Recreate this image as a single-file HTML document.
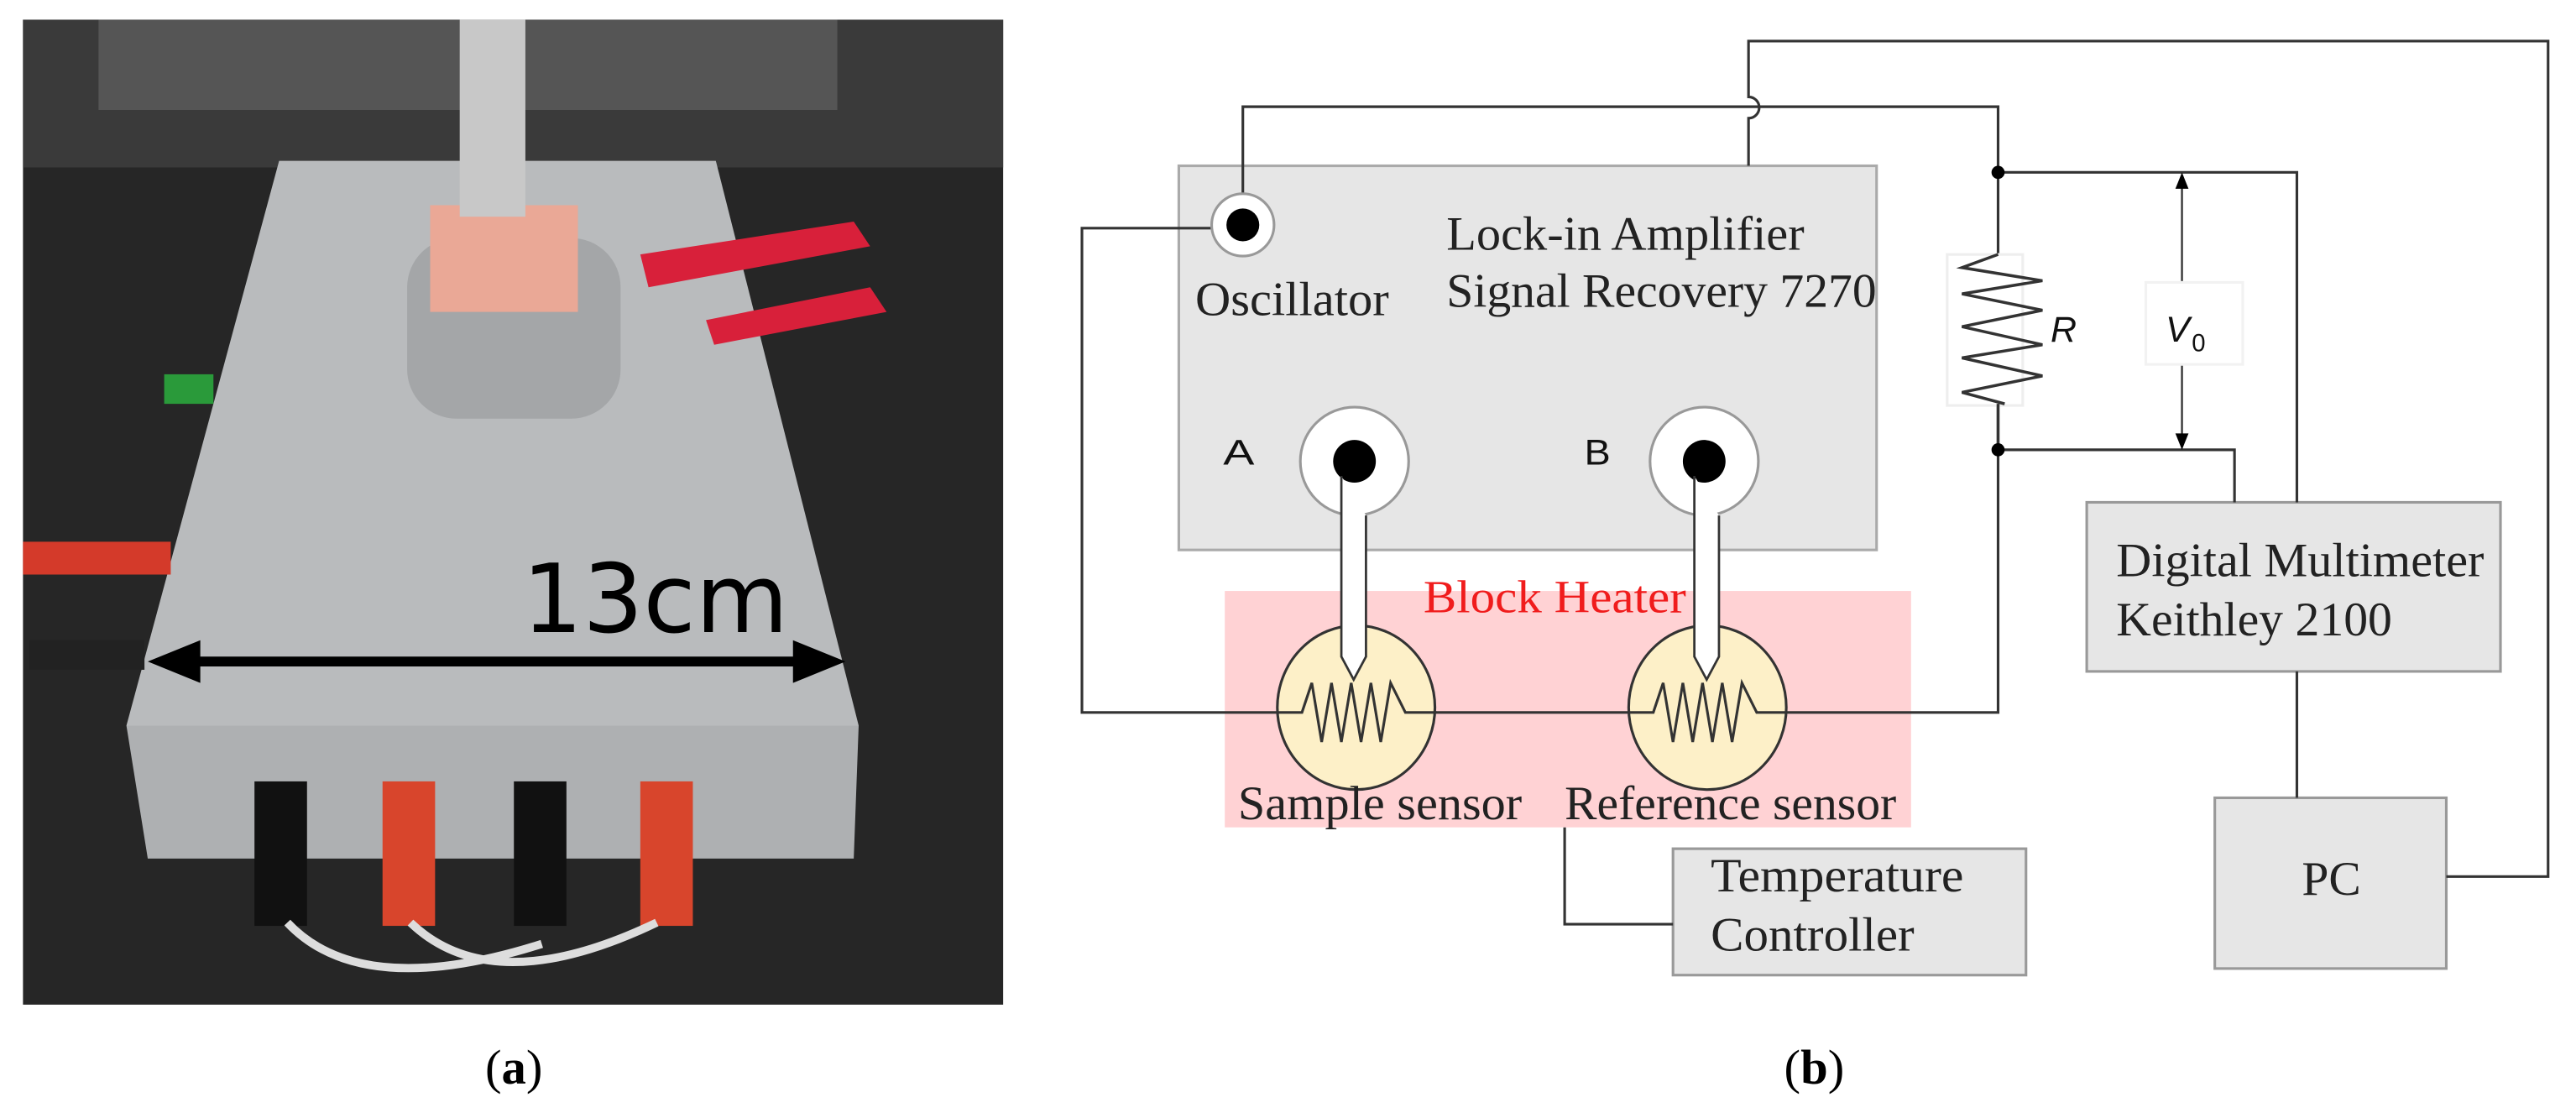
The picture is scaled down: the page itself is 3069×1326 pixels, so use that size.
<!DOCTYPE html>
<html><head><meta charset="utf-8"><style>
html,body{margin:0;padding:0;background:#fff;}
svg{display:block;}
</style></head><body>
<svg width="3069" height="1326" viewBox="0 0 1569 678" preserveAspectRatio="none" xmlns="http://www.w3.org/2000/svg">
<g>
<rect x="14" y="12" width="597" height="600" fill="#262626"/>
<rect x="14" y="12" width="597" height="90" fill="#3a3a3a"/>
<rect x="60" y="12" width="450" height="55" fill="#555"/>
<path d="M170 98 L436 98 L523 442 L77 442 Z" fill="#b9bbbd"/>
<path d="M77 442 L523 442 L520 523 L90 523Z" fill="#aeb0b2"/>
<rect x="248" y="145" width="130" height="110" rx="30" fill="#a4a6a8"/>
<rect x="262" y="125" width="90" height="65" fill="#eaa896"/>
<rect x="280" y="12" width="40" height="120" fill="#c8c8c8"/>
<path d="M390 155 L520 135 L530 150 L395 175Z M430 195 L530 175 L540 190 L435 210Z" fill="#d8203a"/>
<rect x="14" y="330" width="90" height="20" fill="#d43a2a"/>
<rect x="18" y="390" width="70" height="18" fill="#222"/>
<rect x="100" y="228" width="30" height="18" fill="#2a9a3a"/>
<rect x="155" y="476" width="32" height="88" fill="#111"/>
<rect x="233" y="476" width="32" height="88" fill="#d8452c"/>
<rect x="313" y="476" width="32" height="88" fill="#111"/>
<rect x="390" y="476" width="32" height="88" fill="#d8452c"/>
<path d="M175 562 Q220 610 330 575 M250 562 Q300 610 400 562" stroke="#ddd" stroke-width="5" fill="none"/>
<text x="318" y="385" font-family="DejaVu Sans, sans-serif" font-size="58" fill="#000">13cm</text>
<line x1="105" y1="403" x2="500" y2="403" stroke="#000" stroke-width="6"/>
<polygon points="90,403 122,390 122,416" fill="#000"/>
<polygon points="515,403 483,390 483,416" fill="#000"/>
</g>
<text x="313" y="660" text-anchor="middle" font-family="Liberation Serif, serif" font-size="30" fill="#000">(<tspan font-weight="bold">a</tspan>)</text>
<text x="1105" y="660" text-anchor="middle" font-family="Liberation Serif, serif" font-size="30" fill="#000">(<tspan font-weight="bold">b</tspan>)</text>

<g fill="none" stroke="#333" stroke-width="1.6">
<rect x="746" y="360" width="418" height="144" fill="#ffd2d4" stroke="none"/>
<rect x="718" y="101" width="425" height="234" fill="#e6e6e6" stroke="#aaa"/>
<rect x="1271" y="306" width="252" height="103" fill="#e6e6e6" stroke="#999"/>
<rect x="1349" y="486" width="141" height="104" fill="#e6e6e6" stroke="#999"/>
<rect x="1019" y="517" width="215" height="77" fill="#e6e6e6" stroke="#999"/>
<path d="M757 137 V65 H1217 V434 H659 V139 H757"/>
<path d="M1065 101 V72 A6 6 0 0 0 1065 59 V25 H1552 V534 H1490"/>
<path d="M1217 105 H1399 V306 M1217 274 H1361 V306 M1399 409 V486"/>
<path d="M953 504 V563 H1019"/>
<circle cx="757" cy="137" r="19" fill="#fff" stroke="#999"/>
<circle cx="757" cy="137" r="10" fill="#000" stroke="none"/>
<circle cx="825" cy="281" r="33" fill="#fff" stroke="#999"/>
<circle cx="825" cy="281" r="13" fill="#000" stroke="none"/>
<circle cx="1038" cy="281" r="33" fill="#fff" stroke="#999"/>
<circle cx="1038" cy="281" r="13" fill="#000" stroke="none"/>
<ellipse cx="826" cy="431" rx="48" ry="50" fill="#fdf0c8"/>
<ellipse cx="1040" cy="431" rx="48" ry="50" fill="#fdf0c8"/>
<path d="M778 434 H793 L799 416 L805 452 L811 416 L817 452 L823 416 L829 452 L835 416 L841 452 L847 416 L856 434 H875"/>
<path d="M992 434 H1007 L1013 416 L1019 452 L1025 416 L1031 452 L1037 416 L1043 452 L1049 416 L1055 452 L1061 416 L1070 434 H1088"/>
<path d="M817 290 V400 L824.5 414 L832 400 V314" fill="#fff" stroke-width="1.4"/>
<path d="M1032 290 V400 L1039.5 414 L1047 400 V314" fill="#fff" stroke-width="1.4"/>
<rect x="1186" y="155" width="46" height="92" fill="#fff" stroke="#eee"/>
<path d="M1217 155 L1195 163 L1244 171 L1195 179 L1244 189 L1195 199 L1244 210 L1195 218 L1244 229 L1195 239 L1221 246 M1217 246 V274" stroke-width="1.8"/>
<circle cx="1217" cy="105" r="4" fill="#000" stroke="none"/>
<circle cx="1217" cy="274" r="4" fill="#000" stroke="none"/>
<path d="M1329 112 V267" stroke-width="1.2"/>
<polygon points="1329,105 1325,115 1333,115" fill="#000" stroke="none"/>
<polygon points="1329,274 1325,264 1333,264" fill="#000" stroke="none"/>
<rect x="1307" y="172" width="59" height="50" fill="#fff" stroke="#f2f2f2"/>
</g>
<g font-family="Liberation Serif, serif" fill="#222" font-size="29">
<text x="881" y="152" textLength="218" lengthAdjust="spacingAndGlyphs">Lock-in Amplifier</text>
<text x="881" y="187" textLength="262" lengthAdjust="spacingAndGlyphs">Signal Recovery 7270</text>
<text x="728" y="192" textLength="118" lengthAdjust="spacingAndGlyphs">Oscillator</text>
<text x="867" y="373" fill="#f01c1c" font-size="28" textLength="160" lengthAdjust="spacingAndGlyphs">Block Heater</text>
<text x="754" y="499" textLength="173" lengthAdjust="spacingAndGlyphs">Sample sensor</text>
<text x="953" y="499" textLength="202" lengthAdjust="spacingAndGlyphs">Reference sensor</text>
<text x="1289" y="351" textLength="224" lengthAdjust="spacingAndGlyphs">Digital Multimeter</text>
<text x="1289" y="387" textLength="168" lengthAdjust="spacingAndGlyphs">Keithley 2100</text>
<text x="1402" y="545" textLength="36" lengthAdjust="spacingAndGlyphs">PC</text>
<text x="1042" y="543" textLength="154" lengthAdjust="spacingAndGlyphs">Temperature</text>
<text x="1042" y="579" textLength="124" lengthAdjust="spacingAndGlyphs">Controller</text>
</g>
<g font-family="Liberation Sans, sans-serif" fill="#111" font-size="22">
<text x="745" y="283" textLength="19" lengthAdjust="spacingAndGlyphs">A</text>
<text x="965" y="283" textLength="16" lengthAdjust="spacingAndGlyphs">B</text>
<text x="1249" y="208" font-style="italic">R</text>
<text x="1319" y="208" font-style="italic">V</text>
<text x="1335" y="214" font-size="15">0</text>
</g>
</svg>
</body></html>
